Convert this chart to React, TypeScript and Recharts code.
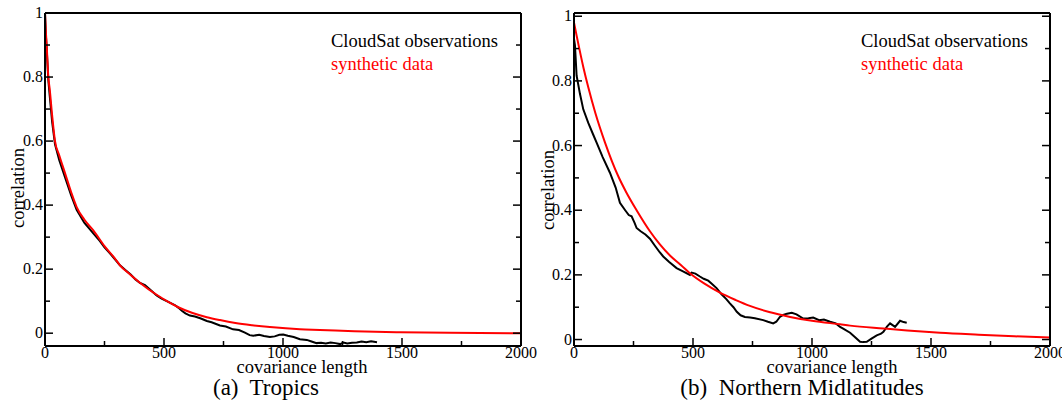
import { LineChart, Line, XAxis, YAxis } from 'recharts'

const FONT = '"Liberation Serif", "Times New Roman", Times, serif'

// x ticks every 250, labelled every 500
const xTicks = [0, 250, 500, 750, 1000, 1250, 1500, 1750, 2000]
const yTicks = [0, 0.1, 0.2, 0.3, 0.4, 0.5, 0.6, 0.7, 0.8, 0.9, 1]

const seriesNames = ['CloudSat observations', 'synthetic data']

// (a) Tropics, [covariance length, correlation]
const tropicsObs: [number, number][] = [
  [0, 1.0], [3, 0.94], [7, 0.89], [14, 0.79], [20, 0.74], [30, 0.66], [42, 0.59], [60, 0.54],
  [84, 0.487], [110, 0.43], [133, 0.385], [165, 0.345], [203, 0.312], [230, 0.288], [250, 0.268],
  [270, 0.252], [294, 0.231], [315, 0.212], [340, 0.196], [360, 0.183], [380, 0.168], [399, 0.157],
  [420, 0.15], [440, 0.137], [469, 0.118], [490, 0.108], [520, 0.097], [545, 0.088], [560, 0.08],
  [575, 0.07], [590, 0.062], [609, 0.055], [630, 0.052], [655, 0.046], [680, 0.038], [700, 0.034],
  [735, 0.024], [760, 0.021], [790, 0.012], [815, 0.01], [840, 0.002], [860, -0.006], [875, -0.008],
  [900, -0.005], [920, -0.009], [945, -0.012], [965, -0.01], [985, -0.005], [1001, -0.004],
  [1020, -0.008], [1045, -0.012], [1071, -0.019], [1100, -0.021], [1120, -0.026], [1141, -0.031],
  [1160, -0.03], [1180, -0.032], [1200, -0.029], [1220, -0.031], [1240, -0.034], [1254, -0.029],
  [1270, -0.032], [1290, -0.03], [1310, -0.029], [1330, -0.026], [1350, -0.028], [1370, -0.025],
  [1395, -0.028],
]

const tropicsSynth: [number, number][] = [
  [0, 1.0], [3, 0.95], [7, 0.9], [14, 0.8], [20, 0.76], [30, 0.68], [42, 0.6], [60, 0.555],
  [84, 0.5], [110, 0.44], [133, 0.394], [165, 0.355], [203, 0.321], [250, 0.272], [294, 0.233],
  [315, 0.212], [360, 0.182], [400, 0.157], [469, 0.12], [520, 0.097], [560, 0.081], [620, 0.063],
  [680, 0.05], [735, 0.041], [800, 0.032], [870, 0.025], [945, 0.019], [1071, 0.012], [1155, 0.01],
  [1300, 0.006], [1492, 0.003], [1700, 0.001], [2000, 0.0],
]

// (b) Northern Midlatitudes
const midlatObs: [number, number][] = [
  [0, 0.93], [4, 0.91], [11, 0.816], [25, 0.76], [39, 0.712], [60, 0.67], [80, 0.635], [95, 0.609],
  [120, 0.565], [151, 0.516], [175, 0.47], [193, 0.423], [215, 0.4], [230, 0.385], [242, 0.381],
  [255, 0.36], [263, 0.345], [280, 0.335], [300, 0.325], [319, 0.312], [340, 0.29], [360, 0.27],
  [375, 0.257], [400, 0.24], [431, 0.221], [460, 0.21], [487, 0.2], [494, 0.207], [510, 0.204],
  [529, 0.195], [545, 0.188], [564, 0.182], [580, 0.172], [599, 0.159], [620, 0.14], [640, 0.125],
  [655, 0.112], [670, 0.1], [684, 0.086], [700, 0.075], [718, 0.07], [740, 0.068], [760, 0.066],
  [795, 0.06], [815, 0.055], [837, 0.05], [850, 0.055], [865, 0.07], [879, 0.076], [895, 0.08],
  [915, 0.083], [935, 0.078], [963, 0.065], [985, 0.066], [1005, 0.068], [1030, 0.06], [1050, 0.062],
  [1076, 0.055], [1100, 0.05], [1118, 0.039], [1131, 0.034], [1160, 0.021], [1180, 0.008],
  [1202, -0.007], [1215, -0.008], [1230, -0.007], [1250, 0.003], [1272, 0.013], [1290, 0.018],
  [1300, 0.024], [1315, 0.04], [1328, 0.05], [1349, 0.039], [1370, 0.058], [1385, 0.054], [1398, 0.052],
]

const midlatSynth: [number, number][] = [
  [0, 0.98], [11, 0.94], [40, 0.84], [60, 0.78], [90, 0.7], [130, 0.61], [186, 0.505], [220, 0.455],
  [263, 0.4], [319, 0.335], [360, 0.295], [403, 0.26], [450, 0.23], [487, 0.205], [550, 0.172],
  [613, 0.145], [680, 0.122], [739, 0.104], [820, 0.085], [908, 0.07], [1000, 0.058], [1118, 0.047],
  [1160, 0.043], [1300, 0.034], [1400, 0.028], [1538, 0.021], [1700, 0.015], [1850, 0.01],
  [2000, 0.006],
]

const toRows = (pts: [number, number][]) => pts.map(([x, y]) => ({ x, y }))

const fmtY = (v: number) => (v === 0 ? '0' : v === 1 ? '1' : String(v))
const isMajorX = (v: number) => v % 500 === 0
const isMajorY = (v: number) => Math.round(v * 10) % 2 === 0

function BottomTick({ x, y, payload }: any) {
  const major = isMajorX(payload.value)
  return (
    <g>
      <line x1={x} x2={x} y1={y} y2={y - (major ? 8 : 5)} stroke="#000" strokeWidth={1.5} />
      {major && (
        <text x={x} y={y + 12} textAnchor="middle" fontSize={16} style={{ fontFamily: FONT }} fill="#000">
          {payload.value}
        </text>
      )}
    </g>
  )
}

function TopTick({ x, y, payload }: any) {
  const major = isMajorX(payload.value)
  return <line x1={x} x2={x} y1={y} y2={y + (major ? 8 : 5)} stroke="#000" strokeWidth={1.5} />
}

function LeftTick({ x, y, payload }: any) {
  const major = isMajorY(payload.value)
  return (
    <g>
      <line x1={x} x2={x + (major ? 8 : 5)} y1={y} y2={y} stroke="#000" strokeWidth={1.5} />
      {major && (
        <text x={x - 2} y={y + 5} textAnchor="end" fontSize={16} style={{ fontFamily: FONT }} fill="#000">
          {fmtY(payload.value)}
        </text>
      )}
    </g>
  )
}

function RightTick({ x, y, payload }: any) {
  const major = isMajorY(payload.value)
  return <line x1={x} x2={x - (major ? 8 : 5)} y1={y} y2={y} stroke="#000" strokeWidth={1.5} />
}

interface PanelProps {
  obs: [number, number][]
  synth: [number, number][]
  yDomain: [number, number]
  width: number
  margin: { top: number; right: number; bottom: number; left: number }
}

function Panel({ obs, synth, yDomain, width, margin }: PanelProps) {
  const axisLine = { stroke: '#000', strokeWidth: 2 }
  return (
    <LineChart width={width} height={403} margin={margin}>
      <XAxis
        dataKey="x"
        type="number"
        domain={[0, 2000]}
        ticks={xTicks}
        interval={0}
        height={1}
        tickSize={0}
        tickMargin={0}
        tickLine={false}
        axisLine={axisLine}
        tick={<BottomTick />}
        allowDataOverflow
      />
      <XAxis
        xAxisId="top"
        orientation="top"
        type="number"
        domain={[0, 2000]}
        ticks={xTicks}
        interval={0}
        height={1}
        tickSize={0}
        tickMargin={0}
        tickLine={false}
        axisLine={axisLine}
        tick={<TopTick />}
        allowDataOverflow
      />
      <YAxis
        type="number"
        domain={yDomain}
        ticks={yTicks}
        interval={0}
        width={1}
        tickSize={0}
        tickMargin={0}
        tickLine={false}
        axisLine={axisLine}
        tick={<LeftTick />}
        allowDataOverflow
      />
      <YAxis
        yAxisId="right"
        orientation="right"
        type="number"
        domain={yDomain}
        ticks={yTicks}
        interval={0}
        width={1}
        tickSize={0}
        tickMargin={0}
        tickLine={false}
        axisLine={axisLine}
        tick={<RightTick />}
        allowDataOverflow
      />
      <Line
        data={toRows(obs)}
        dataKey="y"
        type="linear"
        stroke="#000"
        strokeWidth={2}
        dot={false}
        isAnimationActive={false}
      />
      <Line
        data={toRows(synth)}
        dataKey="y"
        type="monotone"
        stroke="#ff0000"
        strokeWidth={2}
        dot={false}
        isAnimationActive={false}
      />
    </LineChart>
  )
}

function Texts() {
  const s = { fontFamily: FONT, whiteSpace: 'pre' as const }
  return (
    <svg width={1062} height={403} style={{ position: 'absolute', left: 0, top: 0, pointerEvents: 'none' }}>
      {/* left panel */}
      <text x={18} y={188} transform="rotate(-90 18 188)" textAnchor="middle" dominantBaseline="central" fontSize={18.5} fill="#000" style={s}>
        correlation
      </text>
      <text x={302} y={373} textAnchor="middle" fontSize={18.5} fill="#000" style={s}>covariance length</text>
      <text x={266} y={395} textAnchor="middle" fontSize={23} fill="#000" style={s}>
        (a)  Tropics
      </text>
      <text x={331} y={47} fontSize={18.5} fill="#000" style={s}>{seriesNames[0]}</text>
      <text x={331} y={70} fontSize={18.5} fill="#ff0000" style={s}>{seriesNames[1]}</text>

      {/* right panel */}
      <text x={548} y={190} transform="rotate(-90 548 190)" textAnchor="middle" dominantBaseline="central" fontSize={18.5} fill="#000" style={s}>
        correlation
      </text>
      <text x={832} y={373} textAnchor="middle" fontSize={18.5} fill="#000" style={s}>covariance length</text>
      <text x={802} y={395} textAnchor="middle" fontSize={23} fill="#000" style={s}>
        (b)  Northern Midlatitudes
      </text>
      <text x={861} y={47} fontSize={18.5} fill="#000" style={s}>{seriesNames[0]}</text>
      <text x={861} y={70} fontSize={18.5} fill="#ff0000" style={s}>{seriesNames[1]}</text>
    </svg>
  )
}

export default function App() {
  return (
    <div style={{ position: 'absolute', left: 0, top: 0, width: 1062, height: 403, background: '#fff' }}>
      <div style={{ position: 'absolute', left: 0, top: 0 }}>
        <Panel
          obs={tropicsObs}
          synth={tropicsSynth}
          yDomain={[-0.04, 1]}
          width={545}
          margin={{ top: 12, right: 23, bottom: 56, left: 44 }}
        />
      </div>
      <div style={{ position: 'absolute', left: 531, top: 0 }}>
        <Panel
          obs={midlatObs}
          synth={midlatSynth}
          yDomain={[-0.02, 1.01]}
          width={531}
          margin={{ top: 12, right: 11, bottom: 56, left: 42 }}
        />
      </div>
      <Texts />
    </div>
  )
}
